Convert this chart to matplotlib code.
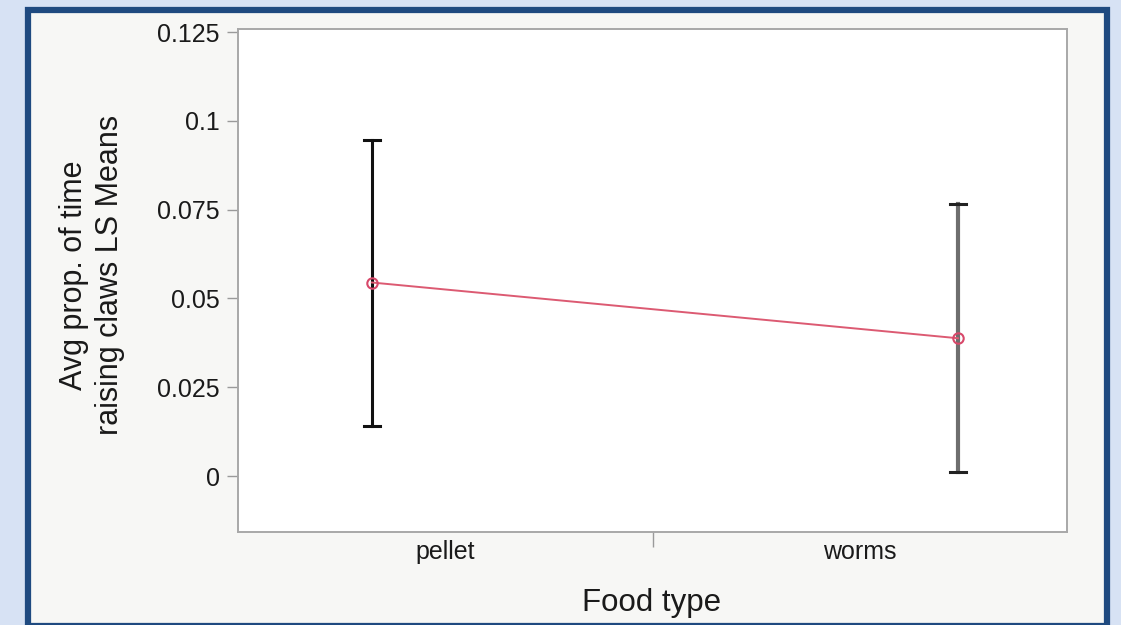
import numpy as np
import matplotlib.pyplot as plt
from matplotlib.patches import Rectangle

# data (LS means with error bars)
food_types = ["pellet", "worms"]
point_x = [0.323, 1.737]          # where JMP drew the means inside each band
ls_means = [0.0545, 0.0388]
upper = [0.0945, 0.0765]
lower = [0.0141, 0.0011]
y_ticks = [0, 0.025, 0.05, 0.075, 0.1, 0.125]
y_tick_labels = ["0", "0.025", "0.05", "0.075", "0.1", "0.125"]

plt.rcParams['font.family'] = ['Liberation Sans', 'DejaVu Sans']

W, H = 1121, 625
fig = plt.figure(figsize=(W / 100, H / 100), dpi=100, facecolor="#d7e2f4")

# slide panel with the dark blue frame
panel = Rectangle((28 / W, -0.0016), (1107 - 28) / W, 1 - 10 / H + 0.0016,
                  transform=fig.transFigure, facecolor="#f7f7f5",
                  edgecolor="#1f4a80", linewidth=4.5, zorder=-10)
fig.patches.append(panel)

ax = fig.add_axes([238 / W, (H - 532) / H, (1067 - 238) / W, (532 - 29) / H])
ax.set_zorder(5)
ax.set_facecolor("white")
for s in ax.spines.values():
    s.set_color("#a8a8a8")
    s.set_linewidth(1.4)

ax.set_xlim(0, 2)
ax.set_ylim(-0.01577, 0.1259)

# error bars: pellet black, worms grey with dark caps
bar_colors = ["#111111", "#6e6e6e"]
cap_colors = ["#111111", "#222222"]
cap_half = 0.019
for i in range(len(food_types)):
    ax.plot([point_x[i], point_x[i]], [lower[i], upper[i]],
            color=bar_colors[i], lw=2.2 if i == 0 else 3.0, zorder=2)
    for yv in (lower[i], upper[i]):
        ax.plot([point_x[i] - cap_half, point_x[i] + cap_half], [yv, yv],
                color=cap_colors[i], lw=2.2, zorder=3)

ax.plot(point_x, ls_means, color="#dc5a72", lw=1.4, zorder=4)
ax.plot(point_x, ls_means, 'o', ms=7.5, mfc="none", mec="#d8486a",
        mew=1.5, zorder=5)

ax.set_yticks(y_ticks)
ax.set_yticklabels(y_tick_labels)
ax.tick_params(axis='y', length=8, width=1, color="#9a9a9a", pad=5,
               labelsize=18, labelcolor="#1a1a1a")

# separator tick between the two category bands, labels centred in the bands
ax.set_xticks([1.0])
ax.set_xticklabels([""])
ax.set_xticks([0.5, 1.5], minor=True)
ax.set_xticklabels(food_types, minor=True)
ax.tick_params(axis='x', which='major', length=11, width=1, color="#9a9a9a")
ax.tick_params(axis='x', which='minor', length=0, pad=6,
               labelsize=18, labelcolor="#1a1a1a")

fig.text(652 / W, 1 - 603 / H, "Food type", ha="center", va="center",
         fontsize=22.5, color="#1a1a1a")
fig.text(92 / W, 1 - 275 / H, "Avg prop. of time\nraising claws LS Means",
         ha="center", va="center", rotation=90, fontsize=22,
         linespacing=1.25, multialignment="center", color="#1a1a1a")

fig.savefig("out.png", dpi=100, facecolor=fig.get_facecolor())
